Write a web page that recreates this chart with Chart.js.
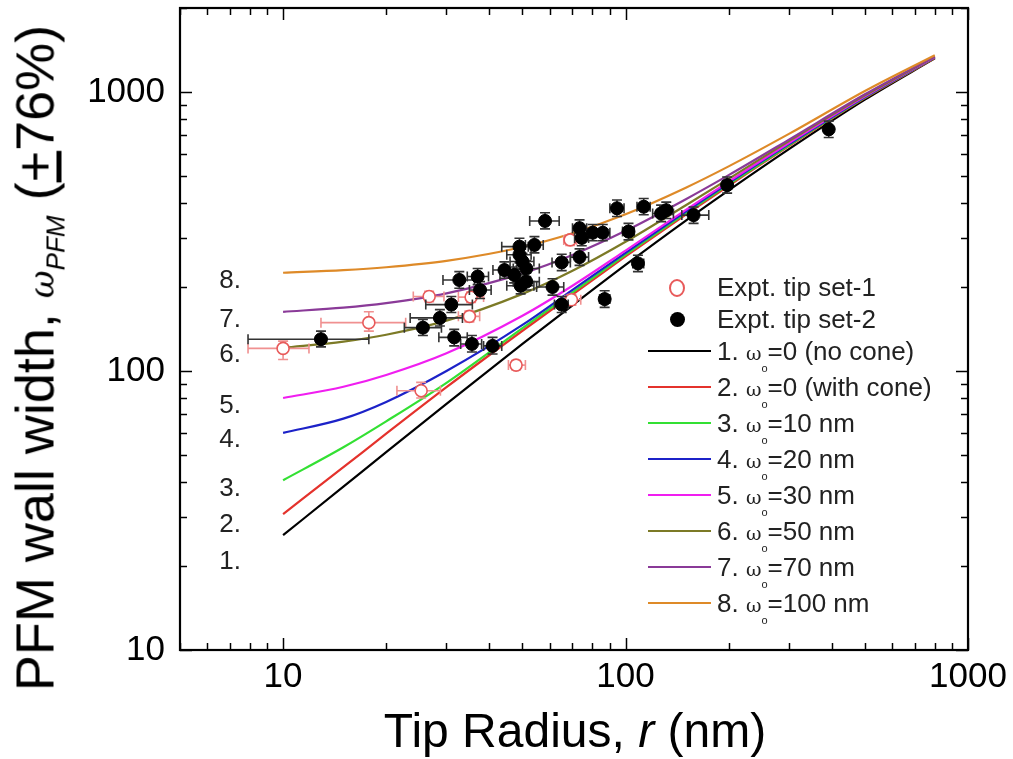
<!DOCTYPE html>
<html><head><meta charset="utf-8">
<script src="https://cdn.jsdelivr.net/npm/chart.js@4.4.1/dist/chart.umd.min.js"></script>
<style>
html,body{margin:0;padding:0;background:#fff;}
#wrap{position:relative;width:1013px;height:759px;font-family:"Liberation Sans",Arial,sans-serif;color:#000;overflow:hidden;}
#c{position:absolute;left:0;top:0;}
#ytitle{position:absolute;left:38px;top:358px;transform:translate(-50%,-50%) rotate(-90deg);white-space:nowrap;font-size:54px;line-height:1;}
#ytitle i{font-family:"DejaVu Serif",serif;font-size:34px;}
#ytitle sub{font-style:italic;font-size:26px;vertical-align:-11px;}
#xtitle{position:absolute;left:575px;top:707px;transform:translateX(-50%);white-space:nowrap;font-size:48px;line-height:1;}
.lg{position:absolute;left:640px;height:30px;line-height:30px;font-size:26px;color:#222;white-space:nowrap;}
.lg .sym{position:absolute;left:0;top:0;width:74px;height:30px;}
.lg .txt{position:absolute;left:77px;top:0;}
.lg .w{font-family:"DejaVu Serif",serif;font-size:19px;}
.lg sub{font-size:11px;vertical-align:-12px;}
</style></head><body>
<div id="wrap">
<canvas id="c" width="1013" height="759"></canvas>
<div id="ytitle">PFM wall width, <i>ω</i><sub>PFM</sub> (<u>+</u>76%)</div>
<div id="xtitle">Tip Radius, <i>r</i> (nm)</div>
<div id="legend"></div>
</div>
<script>
// ---------- data ----------
const xTickLabels = [10, 100, 1000];
const yTickLabels = [10, 100, 1000];

// model curves (tip radius r, wall width)
const radii  = [10, 15, 20, 30, 50, 70, 100, 150, 200, 300, 500, 800];
const curve1 = [25.8, 38.5, 51.2, 76.2, 125, 172, 240, 346, 444, 624, 939, 1320];
const curve2 = [30.7, 45.2, 59.6, 87.5, 139.4, 188.0, 257.3, 363.6, 461.3, 639.6, 950.3, 1324];
const curve3 = [40.6, 53.3, 66.0, 90.7, 142.5, 191.3, 261.1, 368.1, 466.2, 644.6, 955, 1328];
const curve4 = [60, 67.5, 77.5, 100, 146.3, 195.2, 265.2, 373, 471.5, 650.2, 959.7, 1330.6];
const curve5 = [80, 87.8, 96.8, 115.8, 157.8, 202.1, 270, 377.8, 477.3, 656.4, 965.3, 1334.5];
const curve6 = [121, 127.5, 134.9, 151.5, 189, 228.6, 290.4, 392.7, 488.4, 666.4, 972.8, 1338.5];
const curve7 = [163, 168.6, 175.1, 189.8, 223.8, 260.5, 317.9, 412.9, 503.6, 675.2, 981.3, 1342];
const curve8 = [225, 229.8, 235.4, 248.2, 278.3, 311.7, 364.6, 454, 541.3, 707.6, 1008.4, 1355];
const curveNames = ['1.', '2.', '3.', '4.', '5.', '6.', '7.', '8.'];
const curveLegend = ['=0 (no cone)', '=0 (with cone)', '=10 nm', '=20 nm', '=30 nm', '=50 nm', '=70 nm', '=100 nm'];
const curveColors = ['#000000', '#e4322c', '#33e033', '#1c22c8', '#f01ef0', '#7c7a26', '#8a3a98', '#de8a28'];

// Expt. tip set-1 (open red)
const set1R   = [10, 17.8, 26.7, 35.4, 35, 25.3, 47.9, 68.9, 69.5];
const set1W   = [120.5, 149, 185, 184, 157, 85, 105, 295, 180];
const set1RLo = [7.9, 12.9, 24, 32.5, 32.5, 21.5, 45.5, 66, 66.5];
const set1RHi = [11.9, 22.8, 29.5, 38.5, 37.5, 28.8, 51, 72, 74];
const set1WLo = [110, 139, 177, 176, 150, 80, 101, 282, 172];
const set1WHi = [128, 163, 193, 192, 164, 91, 109, 308, 188];

// Expt. tip set-2 (filled black)
const set2R   = [12.9, 25.6, 28.7, 31.0, 31.6, 32.7, 37.0, 37.6, 35.6, 40.9, 44.3, 47.3, 49, 49, 50, 51.3, 49.4, 51.3, 54.2, 58.2, 61.2, 65.1, 65.1, 73.4, 73.4, 74.5, 80.2, 85.8, 94.4, 113, 127, 131.5, 102, 108.7, 86.9, 158, 198, 392];
const set2W   = [130, 143, 155, 173, 132, 212, 218, 195, 125, 123, 230, 221, 279, 261, 247, 233, 202, 209, 283, 345, 200, 245, 173, 256, 325, 300, 313, 313, 383, 388, 367, 377, 316, 243, 181, 362, 464, 735];
const set2RLo = [7.9, 22.6, 23.5, 26.1, 28.5, 29.3, 34.5, 35, 33, 38.5, 41, 43, 43.5, 45, 46, 47, 45, 47, 51, 52.5, 55, 61, 62, 69, 70, 71, 76, 82, 90, 108, 120, 126, 98, 105, 84, 146, 192, 385];
const set2RHi = [17.8, 29, 33.4, 35.7, 34.5, 36.2, 39.8, 40.5, 38, 43.5, 48, 51, 52, 53, 54, 56, 54, 56, 57.5, 64, 66, 69, 68, 78, 77, 78, 84, 90, 99, 118, 138, 137, 106, 113, 90, 175, 204, 400];
const set2WLo = [122, 134, 145, 162, 123, 198, 204, 182, 117, 115, 215, 207, 261, 244, 231, 218, 189, 195, 265, 323, 187, 229, 162, 239, 304, 281, 293, 293, 358, 363, 343, 352, 295, 227, 169, 338, 434, 687];
const set2WHi = [139, 153, 166, 185, 141, 227, 233, 209, 134, 132, 246, 236, 299, 279, 264, 249, 216, 224, 303, 369, 214, 262, 185, 274, 348, 321, 335, 335, 410, 415, 393, 403, 338, 260, 194, 387, 496, 786];

const seriesLabels = ['Expt. tip set-1', 'Expt. tip set-2'];

// ---------- build ----------
const FONT = '"Liberation Sans", Arial, sans-serif';
const curves = [curve1, curve2, curve3, curve4, curve5, curve6, curve7, curve8];
const pts = (xs, ys) => xs.map((x, i) => ({x: x, y: ys[i]}));

const datasets = [];
datasets.push({
  label: seriesLabels[1], data: pts(set2R, set2W), showLine: false,
  pointRadius: 6.5, pointBackgroundColor: '#000', pointBorderColor: '#000', pointBorderWidth: 1,
  err: {xlo: set2RLo, xhi: set2RHi, ylo: set2WLo, yhi: set2WHi, color: '#333', width: 1.6}
});
datasets.push({
  label: seriesLabels[0], data: pts(set1R, set1W), showLine: false,
  pointRadius: 6, pointBackgroundColor: '#fff', pointBorderColor: '#e85a5a', pointBorderWidth: 1.6,
  err: {xlo: set1RLo, xhi: set1RHi, ylo: set1WLo, yhi: set1WHi, color: '#f09090', width: 1.6}
});
for (let k = curves.length - 1; k >= 0; k--) {
  datasets.push({
    label: curveNames[k] + curveLegend[k], data: pts(radii, curves[k]), showLine: true,
    borderColor: curveColors[k], borderWidth: 2.2, pointRadius: 0, fill: false,
    cubicInterpolationMode: 'monotone'
  });
}

const errPlugin = {
  id: 'errbars',
  beforeDatasetDraw(chart, args) {
    const ds = chart.data.datasets[args.index];
    if (!ds.err) return;
    const {ctx} = chart; const x = chart.scales.x, y = chart.scales.y; const e = ds.err;
    ctx.save(); ctx.strokeStyle = e.color; ctx.lineWidth = e.width;
    const cap = 5;
    ds.data.forEach((p, i) => {
      const px = x.getPixelForValue(p.x), py = y.getPixelForValue(p.y);
      const xl = x.getPixelForValue(e.xlo[i]), xh = x.getPixelForValue(e.xhi[i]);
      const yl = y.getPixelForValue(e.ylo[i]), yh = y.getPixelForValue(e.yhi[i]);
      ctx.beginPath();
      ctx.moveTo(xl, py); ctx.lineTo(xh, py);
      ctx.moveTo(xl, py - cap); ctx.lineTo(xl, py + cap);
      ctx.moveTo(xh, py - cap); ctx.lineTo(xh, py + cap);
      ctx.moveTo(px, yl); ctx.lineTo(px, yh);
      ctx.moveTo(px - cap, yl); ctx.lineTo(px + cap, yl);
      ctx.moveTo(px - cap, yh); ctx.lineTo(px + cap, yh);
      ctx.stroke();
    });
    ctx.restore();
  }
};

const labelPos = {x: 7.0, y: [20.7, 28, 37.8, 56.6, 75, 114, 152, 210]};

const framePlugin = {
  id: 'frame',
  afterDraw(chart) {
    const {ctx, chartArea: a} = chart; const x = chart.scales.x, y = chart.scales.y;
    ctx.save();
    ctx.strokeStyle = '#000'; ctx.lineWidth = 1.5;
    const line = (x1, y1, x2, y2) => { ctx.beginPath(); ctx.moveTo(x1, y1); ctx.lineTo(x2, y2); ctx.stroke(); };
    for (let d = 1; d <= 1000; d *= 10) for (let m = 1; m < 10; m++) {
      const v = d * m;
      if (v >= x.min && v <= x.max) {
        const p = Math.round(x.getPixelForValue(v)) + 0.5; const L = m === 1 ? 12 : 7;
        line(p, a.bottom, p, a.bottom - L); line(p, a.top, p, a.top + L);
      }
      if (v >= y.min && v <= y.max) {
        const p = Math.round(y.getPixelForValue(v)) + 0.5; const L = m === 1 ? 12 : 7;
        line(a.left, p, a.left + L, p); line(a.right, p, a.right - L, p);
      }
    }
    ctx.lineWidth = 2.2;
    ctx.strokeRect(a.left, a.top, a.right - a.left, a.bottom - a.top);
    // curve number labels
    ctx.fillStyle = '#222'; ctx.font = '26px ' + FONT; ctx.textAlign = 'center'; ctx.textBaseline = 'middle';
    const lx = x.getPixelForValue(labelPos.x);
    labelPos.y.forEach((v, i) => ctx.fillText(curveNames[i], lx, y.getPixelForValue(v)));
    ctx.restore();
  }
};

new Chart(document.getElementById('c'), {
  type: 'scatter',
  data: {datasets: datasets},
  options: {
    responsive: false, animation: false, devicePixelRatio: 1,
    layout: {padding: {left: 0, top: 8, right: 45, bottom: 0}},
    plugins: {legend: {display: false}, tooltip: {enabled: false}},
    scales: {
      x: {
        type: 'logarithmic', min: 5, max: 1000,
        grid: {display: false, drawTicks: false}, border: {display: false},
        afterBuildTicks: s => { s.ticks = xTickLabels.map(v => ({value: v})); },
        afterFit: s => { s.height = 109; s.paddingLeft = 0; s.paddingRight = 0; },
        ticks: {font: {family: FONT, size: 35}, color: '#000', padding: 6, maxRotation: 0, autoSkip: false, callback: v => String(v)}
      },
      y: {
        type: 'logarithmic', min: 10, max: 2000,
        grid: {display: false, drawTicks: false}, border: {display: false},
        afterBuildTicks: s => { s.ticks = yTickLabels.map(v => ({value: v})); },
        afterFit: s => { s.width = 180; s.paddingTop = 0; s.paddingBottom = 0; },
        ticks: {font: {family: FONT, size: 35}, color: '#000', padding: 15, autoSkip: false, callback: v => String(v)}
      }
    }
  },
  plugins: [errPlugin, framePlugin]
});

// ---------- legend ----------
const lg = document.getElementById('legend');
const rowsY = [287, 319, 351, 387, 423, 459, 495, 531, 567, 603];
function addRow(cy, symHtml, txtHtml) {
  const d = document.createElement('div'); d.className = 'lg'; d.style.top = (cy - 15) + 'px';
  d.innerHTML = '<div class="sym">' + symHtml + '</div><div class="txt">' + txtHtml + '</div>';
  lg.appendChild(d);
}
addRow(rowsY[0], '<div style="position:absolute;left:29px;top:7px;width:12px;height:14px;border:2px solid #e85a5a;border-radius:50%;"></div>', seriesLabels[0]);
addRow(rowsY[1], '<div style="position:absolute;left:30px;top:8px;width:15px;height:15px;background:#000;border-radius:50%;"></div>', seriesLabels[1]);
for (let k = 0; k < curves.length; k++) {
  addRow(rowsY[k + 2], '<div style="position:absolute;left:8px;top:14px;width:63px;height:0;border-top:2.5px solid ' + curveColors[k] + ';"></div>',
    curveNames[k] + ' <span class="w">ω</span><sub>o</sub>' + curveLegend[k]);
}
</script>
</body></html>
